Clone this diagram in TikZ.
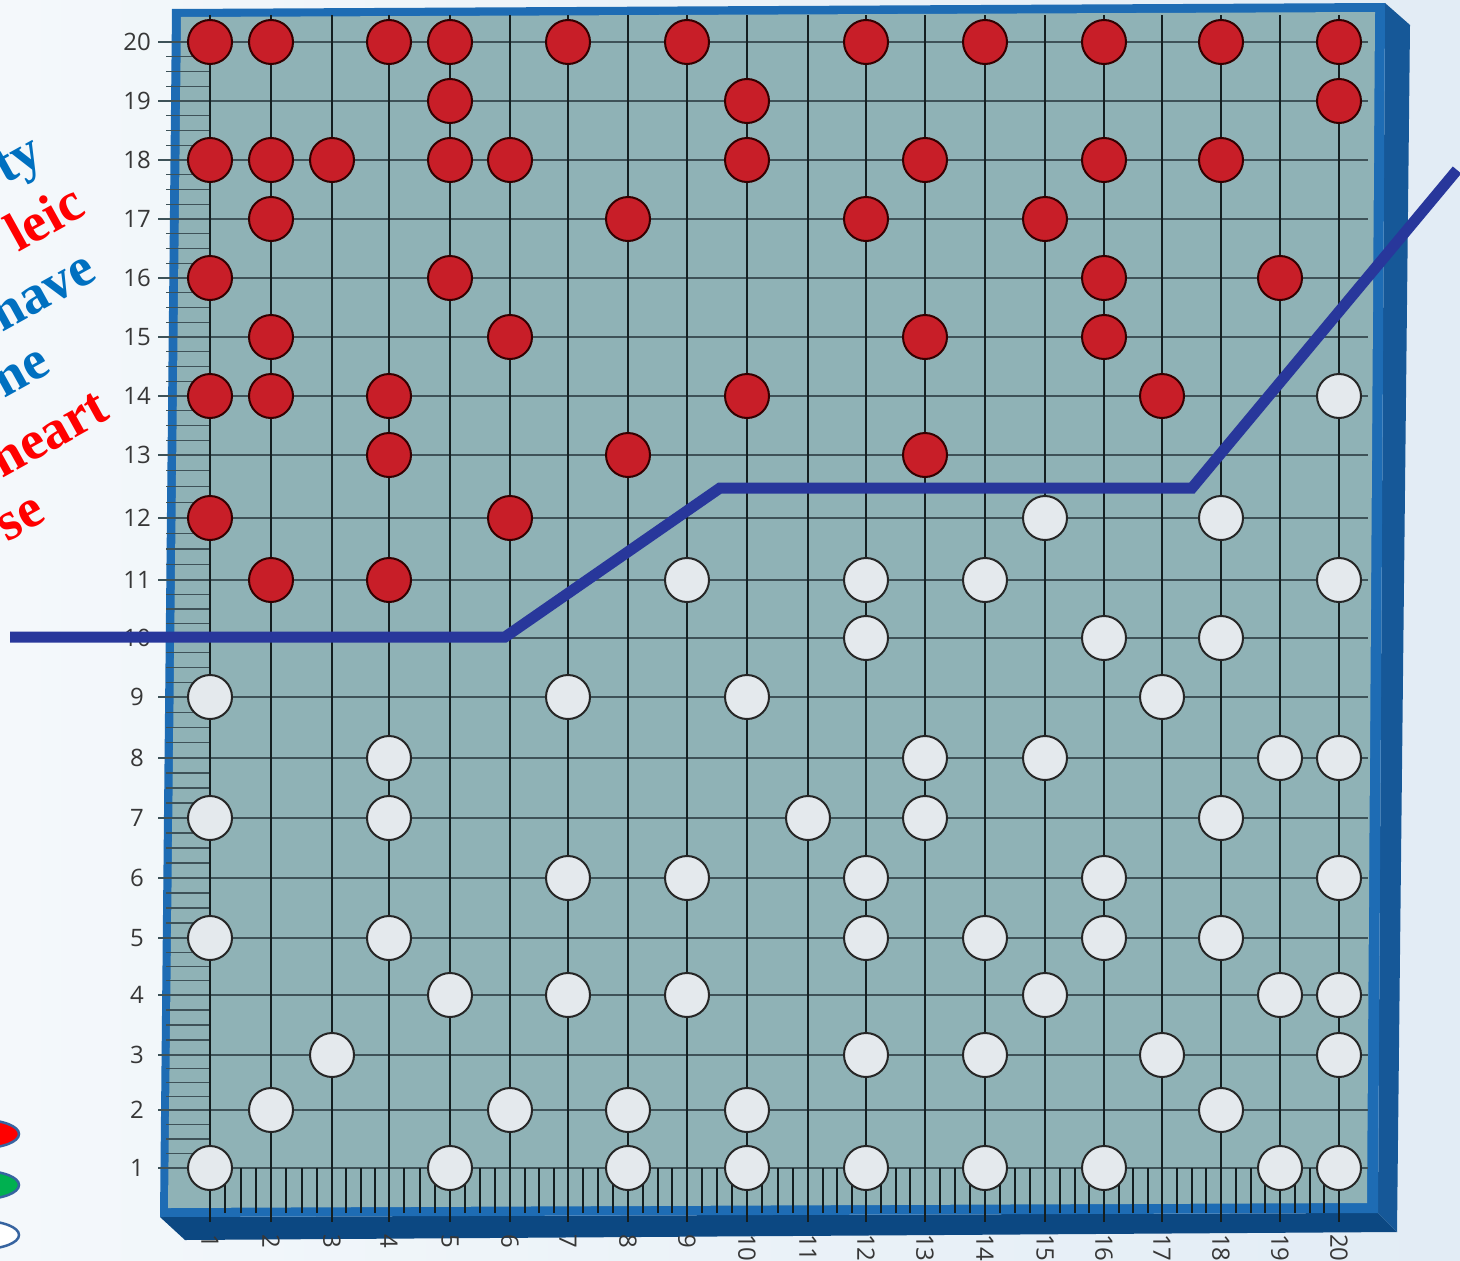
\documentclass[tikz,border=0pt]{standalone}
\usepackage{fontspec}
\setmainfont{Liberation Serif}
\newfontfamily\numfont{Open Sans}
\usepackage{xcolor}
\usepackage{tikz}
\usetikzlibrary{shapes.geometric,positioning,calc}

\definecolor{bgleft}{RGB}{244,248,251}
\definecolor{bgright}{RGB}{226,236,245}
\definecolor{boardgray}{RGB}{143,178,182}
\definecolor{framefront}{RGB}{30,108,180}
\definecolor{frameside}{RGB}{22,88,152}
\definecolor{framebottom}{RGB}{12,72,130}
\definecolor{beadred}{RGB}{200,30,40}
\definecolor{beadwhite}{RGB}{228,233,237}
\definecolor{rodblack}{RGB}{20,30,32}
\definecolor{gridline}{RGB}{62,82,88}
\definecolor{labelgray}{RGB}{55,55,55}
\definecolor{thresh}{RGB}{40,55,155}
\definecolor{txtblue}{RGB}{0,112,192}
\definecolor{txtred}{RGB}{255,0,0}
\definecolor{legendedge}{RGB}{55,100,160}
\definecolor{legendgreen}{RGB}{0,176,80}

\def\rowys{{1168,1110,1055,995,938,878,818,758,697,638,580,518,455,396,337,278,219,160,101,42}}
\def\colxs{{210,271,332,389,450,510,568,628,687,747,808,866,925,985,1045,1104,1162,1221,1280,1339}}

\begin{document}
\begin{tikzpicture}[x=1pt, y=-1pt,
    redbead/.style={circle, draw=black!80!red, line width=2pt, fill=beadred, minimum size=44pt, inner sep=0pt},
    whitebead/.style={circle, draw=black!85, line width=2pt, fill=beadwhite, minimum size=44pt, inner sep=0pt},
    rod/.style={line width=2.5pt, draw=rodblack},
    gridrule/.style={line width=1.2pt, draw=gridline},
    minortick/.style={line width=1.1pt, draw=gridline},
    bottick/.style={line width=2pt, draw=rodblack},
    numlabel/.style={font=\numfont\fontsize{24}{24}\selectfont, text=labelgray, inner sep=0pt},
    wordfrag/.style={font=\bfseries\fontsize{55}{55}\selectfont, rotate=29, anchor=base east, inner sep=0pt},
    threshold/.style={line width=11pt, draw=thresh, line join=miter},
    legend/.style={ellipse, draw=legendedge, line width=2.5pt, minimum width=72pt, minimum height=28pt, inner sep=0pt}
]
    \useasboundingbox (0,0) rectangle (1460,1261);
    \shade[left color=bgleft, right color=bgright] (0,0) rectangle (1460,1261);

    % board box
    \fill[framebottom] (160,1217) -- (1378,1213) -- (1397,1232) -- (185,1240) -- cycle;
    \fill[frameside] (1385,3) -- (1410,25) -- (1397,1232) -- (1378,1213) -- cycle;
    \fill[framefront] (172,9) -- (1385,3) -- (1378,1213) -- (160,1217) -- cycle;
    \fill[boardgray] (181,17) -- (1375,12) -- (1367,1203) -- (168,1208) -- cycle;

    % rows
    \foreach \r in {1,...,20} {
        \pgfmathsetmacro\yy{\rowys[\r-1]}
        \draw[gridrule] (158,\yy) -- (1368,\yy);
        \node[numlabel] (row\r) at (137,\yy) {\r};
    }
    \foreach \r in {1,...,19} {
        \pgfmathsetmacro\ya{\rowys[\r-1]}
        \pgfmathsetmacro\yb{\rowys[\r]}
        \foreach \k in {1,2,3} {
            \pgfmathsetmacro\yk{\ya+(\yb-\ya)*\k/4}
            \draw[minortick] (166,\yk) -- (210,\yk);
        }
    }

    % columns
    \foreach \c in {1,...,19} {
        \pgfmathsetmacro\xa{\colxs[\c-1]}
        \pgfmathsetmacro\xb{\colxs[\c]}
        \foreach \k in {1,2,3} {
            \pgfmathsetmacro\xk{\xa+(\xb-\xa)*\k/4}
            \draw[bottick] (\xk,1168) -- (\xk,1213);
        }
    }
    \foreach \c in {1,...,20} {
        \pgfmathsetmacro\xx{\colxs[\c-1]}
        \draw[rod] (\xx,15) -- (\xx,1222);
        \node[numlabel, rotate=-90, anchor=west] (col\c) at (\xx,1234) {\c};
    }

    % beads
    \foreach \c/\reds in {1/{20,18,16,14,12}, 2/{20,18,17,15,14,11}, 3/{18}, 4/{20,14,13,11},
        5/{20,19,18,16}, 6/{18,15,12}, 7/{20}, 8/{17,13}, 9/{20}, 10/{19,18,14}, 12/{20,17},
        13/{18,15,13}, 14/{20}, 15/{17}, 16/{20,18,16,15}, 17/{14}, 18/{20,18}, 19/{16}, 20/{20,19}} {
        \pgfmathsetmacro\xx{\colxs[\c-1]}
        \foreach \r in \reds {
            \pgfmathsetmacro\yy{\rowys[\r-1]}
            \node[redbead] (red\c-\r) at (\xx,\yy) {};
        }
    }
    \foreach \c/\whites in {1/{9,7,5,1}, 2/{2}, 3/{3}, 4/{8,7,5}, 5/{4,1}, 6/{2}, 7/{9,6,4},
        8/{2,1}, 9/{11,6,4}, 10/{9,2,1}, 11/{7}, 12/{11,10,6,5,3,1}, 13/{8,7}, 14/{11,5,3,1},
        15/{12,8,4}, 16/{10,6,5,1}, 17/{9,3}, 18/{12,10,7,5,2}, 19/{8,4,1}, 20/{14,11,8,6,4,3,1}} {
        \pgfmathsetmacro\xx{\colxs[\c-1]}
        \foreach \r in \whites {
            \pgfmathsetmacro\yy{\rowys[\r-1]}
            \node[whitebead] (white\c-\r) at (\xx,\yy) {};
        }
    }

    % threshold line
    \coordinate (t0) at (10,637);
    \coordinate (t1) at (505,637);
    \coordinate (t2) at (720,488);
    \coordinate (t3) at (1192,488);
    \coordinate (t4) at (1457,170);
    \draw[threshold] (t0) -- (t1) -- (t2) -- (t3) -- (t4);

    % cut-off text and legend at the left
    \begin{scope}
        \clip (0,0) rectangle (1460,1261);
        \node[wordfrag, text=txtblue] (frag1) at (46,162) {ty};
        \node[wordfrag, text=txtred] (frag2) at (88,214) {leic};
        \node[wordfrag, text=txtblue] (frag3) at (99,279) {have};
        \node[wordfrag, text=txtblue] (frag4) at (53,372) {ne};
        \node[wordfrag, text=txtred] (frag5) at (112,418) {heart};
        \node[wordfrag, text=txtred] (frag6) at (48,520) {se};
        \node[legend, fill=txtred] (key1) at (-17,1134) {};
        \node[legend, fill=legendgreen] (key2) at (-17,1185) {};
        \node[legend, fill=white] (key3) at (-17,1235) {};
    \end{scope}
\end{tikzpicture}
\end{document}
